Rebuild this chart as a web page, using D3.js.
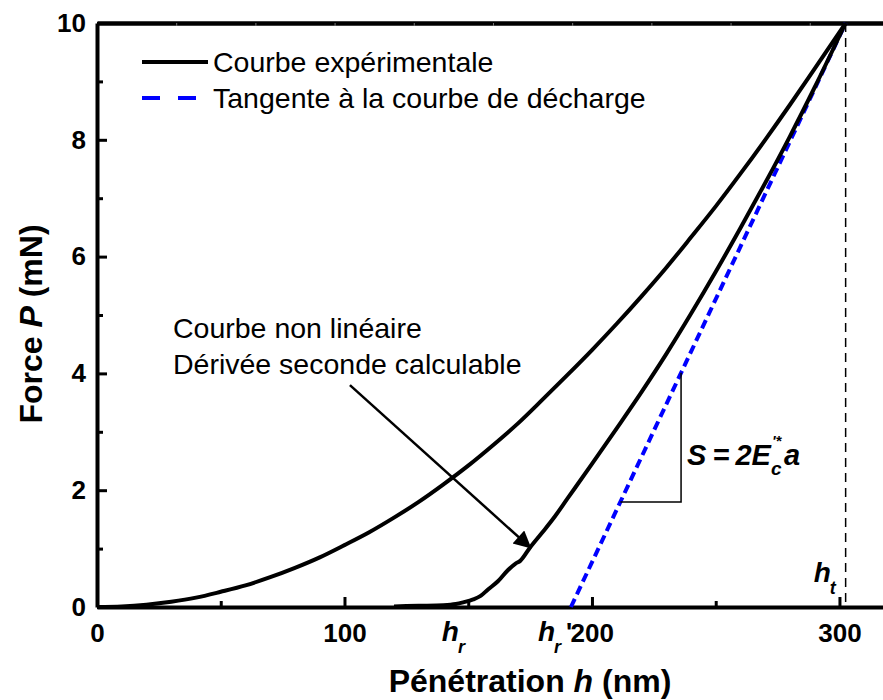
<!DOCTYPE html>
<html>
<head>
<meta charset="utf-8">
<script src="https://cdn.jsdelivr.net/npm/d3@7"></script>
<style>
  body { margin: 0; background: #fff; }
  svg { display: block; }
  text { font-family: "Liberation Sans", Arial, Helvetica, sans-serif; fill: #000; }
</style>
</head>
<body>
<svg id="chart" width="883" height="700"></svg>
<script>
// Loading branch: penetration h (nm) and force P (mN)
const loadH = [0, 10, 20, 30, 40, 50, 60, 70, 80, 90, 100, 110, 120, 130, 140, 150,
               160, 170, 180, 190, 200, 210, 220, 230, 240, 250, 260, 270, 280, 290, 302.5];
const loadP = [0, 0.01, 0.04, 0.09, 0.16, 0.26, 0.37, 0.51, 0.67, 0.85, 1.06, 1.28, 1.53, 1.80, 2.10, 2.42,
               2.77, 3.14, 3.55, 3.97, 4.40, 4.85, 5.32, 5.81, 6.33, 6.86, 7.42, 8.00, 8.60, 9.22, 10];

// Unloading branch
const unloadH = [120, 130, 140, 145, 148, 152, 155, 158, 162, 166, 169, 171, 175, 180, 185, 190,
                 200, 210, 220, 230, 240, 250, 260, 270, 280, 290, 302.5];
const unloadP = [0.01, 0.02, 0.03, 0.05, 0.08, 0.13, 0.19, 0.30, 0.44, 0.63, 0.74, 0.79, 1.02, 1.28, 1.55, 1.85,
                 2.45, 3.06, 3.68, 4.33, 5.02, 5.74, 6.49, 7.26, 8.06, 8.90, 10];

// Tangent to the unloading curve at maximum load
const tangentH = [191.5, 302.5];
const tangentP = [0, 10];

// Characteristic depths
const hMax = 302.5;      // h_t
const hResidual = 147;   // h_r
const hTangent = 191.5;  // h_r'

// Slope triangle (load level of the horizontal leg, depth of the vertical leg)
const triangleP = 1.8;
const triangleH = 236;

// Annotation arrow: tail and head (h, P)
const arrowTail = [102.2, 3.80];
const arrowHead = [175, 1.02];

// Axis ticks
const xMajorTicks = [0, 100, 200, 300];
const xMinorTicks = [50, 150, 250];
const xTopTicks = [32, 64, 96, 128, 160, 192, 224, 256, 288];
const yMajorTicks = [0, 2, 4, 6, 8, 10];
const yMinorTicks = [1, 3, 5, 7, 9];

const legendLabels = ["Courbe expérimentale", "Tangente à la courbe de décharge"];
const noteLines = ["Courbe non linéaire", "Dérivée seconde calculable"];

const svg = d3.select("#chart");
const plotLeft = 97, plotTop = 23, plotRight = 884, plotBottom = 607;

const x = d3.scaleLinear().domain([0, 318]).range([plotLeft, plotRight]);
const y = d3.scaleLinear().domain([0, 10]).range([plotBottom, plotTop]);

const BLUE = "#0000ff";
const TICK_FONT = "26px";

// ---------- axes ----------
function styleAxis(g, width) {
  g.select(".domain").attr("stroke", "#000").attr("stroke-width", width);
  g.selectAll(".tick line").attr("stroke", "#000").attr("stroke-width", 3);
  g.selectAll(".tick text")
    .style("font-family", '"Liberation Sans", Arial, sans-serif')
    .style("font-weight", "bold")
    .style("font-size", TICK_FONT)
    .attr("fill", "#000");
}

// bottom major
const xAxisG = svg.append("g").attr("transform", `translate(0,${plotBottom})`)
  .call(d3.axisBottom(x).tickValues(xMajorTicks.filter(v => v !== 200)).tickSize(-10).tickPadding(17).tickSizeOuter(0));
styleAxis(xAxisG, 4);
// 200 tick (its label sits right after the h_r' text)
const x200 = svg.append("g").attr("transform", `translate(0,${plotBottom})`)
  .call(d3.axisBottom(x).tickValues(xMajorTicks.filter(v => v === 200)).tickSize(-10).tickPadding(17).tickSizeOuter(0).tickFormat(d3.format("d")));
x200.select(".domain").remove();
styleAxis(x200, 0);
x200.selectAll(".tick text").attr("text-anchor", "start").attr("dx", "-22");
// bottom minor
const xMinorG = svg.append("g").attr("transform", `translate(0,${plotBottom})`)
  .call(d3.axisBottom(x).tickValues(xMinorTicks).tickSize(-6).tickFormat("").tickSizeOuter(0));
xMinorG.select(".domain").remove();
xMinorG.selectAll(".tick line").attr("stroke", "#000").attr("stroke-width", 3);

// top axis
const xTopG = svg.append("g").attr("transform", `translate(0,${plotTop})`)
  .call(d3.axisTop(x).tickValues(xTopTicks).tickSize(-3).tickFormat("").tickSizeOuter(0));
xTopG.select(".domain").attr("stroke", "#000").attr("stroke-width", 4.5);
xTopG.selectAll(".tick line").attr("stroke", "#777").attr("stroke-width", 1);

// left major
const yAxisG = svg.append("g").attr("transform", `translate(${plotLeft},0)`)
  .call(d3.axisLeft(y).tickValues(yMajorTicks).tickSize(-10).tickPadding(11).tickSizeOuter(0));
styleAxis(yAxisG, 4);
// left minor
const yMinorG = svg.append("g").attr("transform", `translate(${plotLeft},0)`)
  .call(d3.axisLeft(y).tickValues(yMinorTicks).tickSize(-6).tickFormat("").tickSizeOuter(0));
yMinorG.select(".domain").remove();
yMinorG.selectAll(".tick line").attr("stroke", "#000").attr("stroke-width", 3);

// ---------- axis titles ----------
const xTitle = svg.append("text")
  .attr("x", 530).attr("y", 692)
  .attr("text-anchor", "middle")
  .style("font-weight", "bold").style("font-size", "32px");
xTitle.append("tspan").text("Pénétration ");
xTitle.append("tspan").style("font-style", "italic").text("h");
xTitle.append("tspan").text(" (nm)");

const yTitle = svg.append("text")
  .attr("transform", `translate(42,${324}) rotate(-90)`)
  .attr("text-anchor", "middle")
  .style("font-weight", "bold").style("font-size", "32px");
yTitle.append("tspan").text("Force ");
yTitle.append("tspan").style("font-style", "italic").text("P");
yTitle.append("tspan").text(" (mN)");

// ---------- curves ----------
const line = d3.line().x(d => x(d[0])).y(d => y(d[1])).curve(d3.curveMonotoneX);

const loadData = loadH.map((h, i) => [h, loadP[i]]);
const unloadData = unloadH.map((h, i) => [h, unloadP[i]]);
const tangentData = tangentH.map((h, i) => [h, tangentP[i]]);

// vertical dashed line at maximum depth
svg.append("line")
  .attr("x1", x(hMax)).attr("x2", x(hMax))
  .attr("y1", y(10)).attr("y2", y(0))
  .attr("stroke", "#000").attr("stroke-width", 1.5)
  .attr("stroke-dasharray", "9,6");

svg.append("path").datum(tangentData)
  .attr("d", d3.line().x(d => x(d[0])).y(d => y(d[1])))
  .attr("fill", "none").attr("stroke", BLUE).attr("stroke-width", 4)
  .attr("stroke-dasharray", "9,5");

svg.append("path").datum(loadData)
  .attr("d", line)
  .attr("fill", "none").attr("stroke", "#000").attr("stroke-width", 4)
  .attr("stroke-linejoin", "round");

svg.append("path").datum(unloadData)
  .attr("d", line)
  .attr("fill", "none").attr("stroke", "#000").attr("stroke-width", 4)
  .attr("stroke-linejoin", "round");

// ---------- slope triangle ----------
const slope = (tangentP[1] - tangentP[0]) / (tangentH[1] - tangentH[0]);
const hAtTriP = tangentH[0] + (triangleP - tangentP[0]) / slope;
const pAtTriH = tangentP[0] + (triangleH - tangentH[0]) * slope;
svg.append("path")
  .attr("d", `M${x(hAtTriP)},${y(triangleP)} L${x(triangleH)},${y(triangleP)} L${x(triangleH)},${y(pAtTriH)}`)
  .attr("fill", "none").attr("stroke", "#000").attr("stroke-width", 1.5);

// S = 2E'*c a
const sx = x(triangleH) + 6, sy = 465;
const sMain = svg.append("text").attr("x", sx).attr("y", sy)
  .style("font-weight", "bold").style("font-style", "italic").style("font-size", "29px")
  .style("word-spacing", "-2px")
  .text("S = 2E");
const sW = sMain.node().getComputedTextLength();
svg.append("text").attr("x", sx + sW + 1).attr("y", sy - 19)
  .style("font-weight", "bold").style("font-style", "italic").style("font-size", "15px")
  .text("'*");
svg.append("text").attr("x", sx + sW).attr("y", sy + 10)
  .style("font-weight", "bold").style("font-style", "italic").style("font-size", "19px")
  .text("c");
svg.append("text").attr("x", sx + sW + 13).attr("y", sy)
  .style("font-weight", "bold").style("font-style", "italic").style("font-size", "29px")
  .text("a");

// ---------- depth labels ----------
function depthLabel(px, baseY, sub, suffix) {
  const h = svg.append("text").attr("x", px).attr("y", baseY)
    .style("font-weight", "bold").style("font-style", "italic").style("font-size", "28px")
    .text("h");
  const w = h.node().getComputedTextLength();
  svg.append("text").attr("x", px + w - 1).attr("y", baseY + 12)
    .style("font-weight", "bold").style("font-style", "italic").style("font-size", "18px")
    .text(sub);
  if (suffix) {
    svg.append("text").attr("x", px + w + 11).attr("y", baseY)
      .style("font-weight", "bold").style("font-size", TICK_FONT)
      .text(suffix);
  }
}
depthLabel(x(hMax) - 32, 582, "t");
depthLabel(x(hResidual) - 19, 641, "r");
depthLabel(x(hTangent) - 33, 641, "r", "'");

// ---------- annotation ----------
svg.append("defs").append("marker")
  .attr("id", "arrowhead")
  .attr("viewBox", "0 0 10 10")
  .attr("refX", 9).attr("refY", 5)
  .attr("markerWidth", 9).attr("markerHeight", 7)
  .attr("markerUnits", "strokeWidth")
  .attr("orient", "auto")
  .append("path").attr("d", "M0,0 L10,5 L0,10 Z").attr("fill", "#000");

svg.append("line")
  .attr("x1", x(arrowTail[0])).attr("y1", y(arrowTail[1]))
  .attr("x2", x(arrowHead[0])).attr("y2", y(arrowHead[1]))
  .attr("stroke", "#000").attr("stroke-width", 2.5)
  .attr("marker-end", "url(#arrowhead)");

noteLines.forEach((t, i) => {
  svg.append("text").attr("x", 173).attr("y", 338 + i * 36)
    .style("font-size", "28.5px").text(t);
});

// ---------- legend ----------
const lg = svg.append("g");
lg.append("line").attr("x1", 142).attr("x2", 208).attr("y1", 62).attr("y2", 62)
  .attr("stroke", "#000").attr("stroke-width", 4);
lg.append("line").attr("x1", 142).attr("x2", 198).attr("y1", 98).attr("y2", 98)
  .attr("stroke", BLUE).attr("stroke-width", 4).attr("stroke-dasharray", "18,18");
legendLabels.forEach((t, i) => {
  lg.append("text").attr("x", 213).attr("y", 72 + i * 36)
    .style("font-size", "28.5px").text(t);
});
</script>
</body>
</html>
